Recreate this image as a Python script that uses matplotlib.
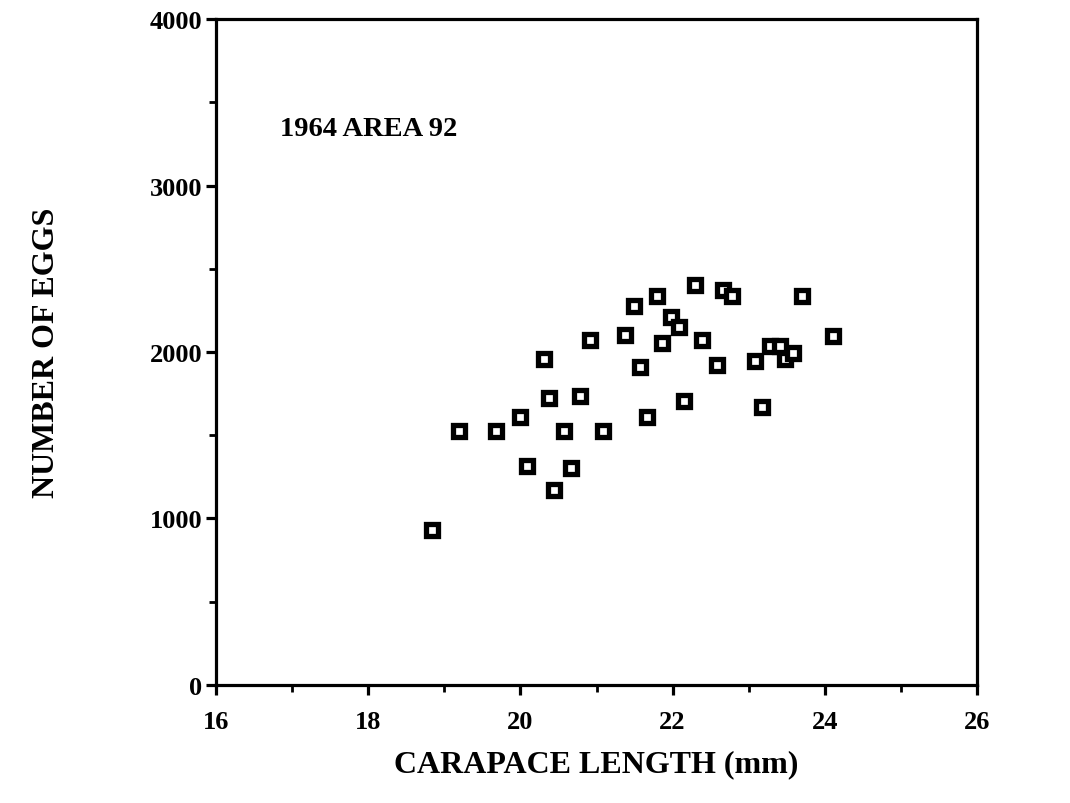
import matplotlib
matplotlib.use("Agg")
import matplotlib.pyplot as plt
from matplotlib.ticker import MultipleLocator

# carapace length (mm) and number of eggs
length = [18.84, 19.19, 19.68, 19.99, 20.09, 20.31, 20.38, 20.44, 20.57, 20.66,
          20.78, 20.91, 21.09, 21.37, 21.49, 21.57, 21.66, 21.80, 21.86, 21.98,
          22.08, 22.15, 22.29, 22.39, 22.58, 22.66, 22.78, 23.08, 23.17, 23.28,
          23.41, 23.48, 23.58, 23.70, 24.11]
eggs = [930, 1525, 1525, 1610, 1315, 1960, 1725, 1170, 1525, 1305,
        1735, 2070, 1525, 2100, 2275, 1910, 1610, 2335, 2055, 2210,
        2150, 1705, 2400, 2070, 1920, 2370, 2335, 1945, 1670, 2035,
        2035, 1960, 1995, 2335, 2095]

title = "1964 AREA 92"
xlab = "CARAPACE LENGTH (mm)"
ylab = "NUMBER OF EGGS"
xticks = [16, 18, 20, 22, 24, 26]
yticks = [0, 1000, 2000, 3000, 4000]

plt.rcParams['font.family'] = ['Liberation Serif', 'DejaVu Serif']

fig = plt.figure(figsize=(10.7, 8.04), dpi=100)
ax = fig.add_axes([0.202, 0.147, 0.711, 0.828])

ax.plot(length, eggs, linestyle='none', marker='s', markersize=8,
        markerfacecolor='white', markeredgecolor='black', markeredgewidth=3.8)

ax.set_xlim(16, 26)
ax.set_ylim(0, 4000)
ax.set_xticks(xticks)
ax.set_yticks(yticks)
ax.xaxis.set_minor_locator(MultipleLocator(1))
ax.yaxis.set_minor_locator(MultipleLocator(500))

for s in ax.spines.values():
    s.set_linewidth(2.3)

ax.tick_params(which='major', direction='out', length=7, width=2.3, labelsize=19)
ax.tick_params(axis='x', which='major', pad=11)
ax.tick_params(axis='y', which='major', pad=3)
ax.tick_params(which='minor', direction='out', length=5, width=2)
for lbl in ax.get_xticklabels() + ax.get_yticklabels():
    lbl.set_fontweight('bold')

ax.set_xlabel(xlab, fontsize=23, fontweight='bold', labelpad=12)
ax.set_ylabel(ylab, fontsize=23, fontweight='bold', labelpad=64)

ax.text(16.84, 3340, title, fontsize=20.5, fontweight='bold', va='center', ha='left')

plt.savefig('out.png', dpi=100, facecolor='white')
